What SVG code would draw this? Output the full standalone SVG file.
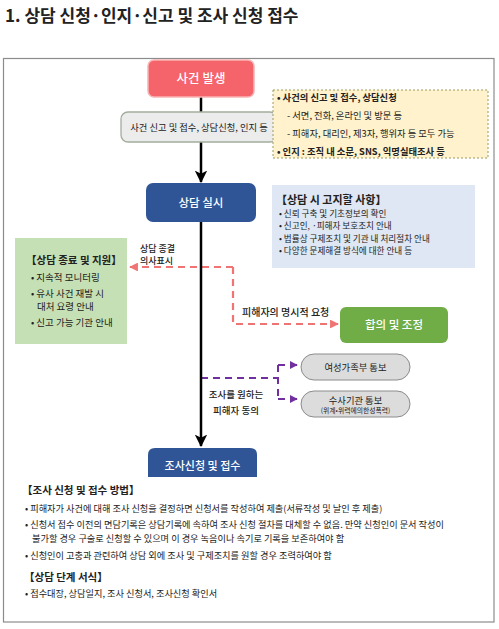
<svg xmlns="http://www.w3.org/2000/svg" width="499" height="629" viewBox="0 0 499 629">
<style>
text{font-family:"Noto Sans CJK KR","Noto Sans",sans-serif;fill:#222}
.w{fill:#fff;text-anchor:middle}
.b{font-weight:bold}
.m{font-weight:500}
.c{text-anchor:middle}
.s{font-size:9.5px}
.t{font-size:9px}
.u{font-size:8.6px}
.r{fill:none;stroke:#f07474;stroke-width:2.2;stroke-dasharray:7 5}
.p{fill:none;stroke:#7030a0;stroke-width:2;stroke-dasharray:7 5}
.k{fill:none;stroke:#000;stroke-width:2.5}
</style>
<defs>
<marker id="ak" viewBox="0 0 12 12" refX="11" refY="6" markerWidth="5" markerHeight="5" orient="auto" markerUnits="strokeWidth">
<path d="M0,0 L12,6 L0,12 L3,6 z" fill="#000"/>
</marker>
<marker id="ar" viewBox="0 0 10 10" refX="9" refY="5" markerWidth="4" markerHeight="4" orient="auto" markerUnits="strokeWidth">
<path d="M0,0 L10,5 L0,10 z" fill="#f07474"/>
</marker>
<marker id="ap" viewBox="0 0 10 10" refX="9" refY="5" markerWidth="4" markerHeight="4" orient="auto" markerUnits="strokeWidth">
<path d="M0,0 L10,5 L0,10 z" fill="#7030a0"/>
</marker>
</defs>
<rect width="499" height="629" fill="#fff"/>
<text x="5" y="22" class="b" font-size="17">1. 상담 신청·인지·신고 및 조사 신청 접수</text>
<rect x="3.5" y="58.5" width="490.5" height="563.5" fill="none" stroke="#8c8c8c" stroke-width="1.2"/>

<g id="connectors">
<path class="r" d="M233,267 H130" marker-end="url(#ar)"/>
<path class="r" d="M233,267 V324 H338" marker-end="url(#ar)"/>
<path class="p" d="M201,378 H278 M278,365 V399"/>
<path class="p" d="M278,365 H297" marker-end="url(#ap)"/>
<path class="p" d="M278,399 H297" marker-end="url(#ap)"/>
<path class="k" d="M201,97 V182" marker-end="url(#ak)"/>
<path class="k" d="M201,222 V446" marker-end="url(#ak)"/>
</g>

<g id="n-incident">
<rect x="148" y="60" width="106" height="37" rx="6" fill="#f5636b" stroke="#f8b4b4" stroke-width="1.5"/>
<text x="201" y="83" class="w m" font-size="12.5">사건 발생</text>
</g>

<g id="n-report">
<rect x="121" y="112" width="156" height="30" rx="7" fill="#ececec" stroke="#a3ad9c" stroke-width="1.3"/>
<text x="199" y="130.5" class="c" font-size="9.3">사건 신고 및 접수, 상담신청, 인지 등</text>
</g>

<g id="n-report-note">
<rect x="273" y="90" width="215" height="68" fill="#fff2cc" stroke="#9c9c5a" stroke-width="1" stroke-dasharray="2 2"/>
<text x="277" y="101" class="b" font-size="9.3">• 사건의 신고 및 접수, 상담신청</text>
<text x="287" y="119" font-size="9.3">- 서면, 전화, 온라인 및 방문 등</text>
<text x="287" y="137" font-size="9.3">- 피해자, 대리인, 제3자, 행위자 등 모두 가능</text>
<text x="277" y="155" class="b" font-size="9.3">• 인지 : 조직 내 소문, SNS, 익명실태조사 등</text>
</g>

<g id="n-counsel">
<rect x="146" y="183" width="110" height="39" rx="7" fill="#2f5597"/>
<text x="201" y="206.5" class="w m" font-size="11.5">상담 실시</text>
</g>

<g id="n-counsel-note">
<rect x="272" y="185" width="203" height="83" fill="#dee7f3"/>
<text x="276" y="204" class="b" font-size="11">【상담 시 고지할 사항】</text>
<text x="279" y="216.5" class="u">• 신뢰 구축 및 기초정보의 확인</text>
<text x="279" y="229" class="u">• 신고인, ·피해자 보호조치 안내</text>
<text x="279" y="241.5" class="u">• 법률상 구제조치 및 기관 내 처리절차 안내</text>
<text x="279" y="254" class="u">• 다양한 문제해결 방식에 대한 안내 등</text>
</g>

<g id="n-end-support">
<rect x="15" y="238" width="112" height="106" fill="#c5e0b4"/>
<text x="26" y="264" class="b" font-size="10.5">【상담 종료 및 지원】</text>
<text x="31" y="281" class="s">• 지속적 모니터링</text>
<text x="31" y="297" class="s">• 유사 사건 재발 시</text>
<text x="37" y="310" class="s">대처 요령 안내</text>
<text x="31" y="326" class="s">• 신고 가능 기관 안내</text>
</g>

<g id="l-end">
<text x="140" y="252" class="t m">상담 종결</text>
<text x="140" y="264" class="t m">의사표시</text>
</g>

<g id="l-request">
<text x="242" y="316" class="m" font-size="10">피해자의 명시적 요청</text>
</g>

<g id="n-mediation">
<rect x="340" y="307" width="108" height="36" rx="6" fill="#70ad47"/>
<text x="394" y="329" class="w m" font-size="11.5">합의 및 조정</text>
</g>

<g id="l-consent">
<text x="236" y="398" class="c s m">조사를 원하는</text>
<text x="236" y="414" class="c s m">피해자 동의</text>
</g>

<g id="n-mogef">
<rect x="301" y="354" width="109" height="26" rx="13" fill="#dcdcdc" stroke="#8c8c8c" stroke-width="1"/>
<text x="355.5" y="370.5" class="c" font-size="9.3">여성가족부 통보</text>
</g>

<g id="n-police">
<rect x="301" y="391" width="109" height="26" rx="13" fill="#dcdcdc" stroke="#8c8c8c" stroke-width="1"/>
<text x="355.5" y="403.5" class="c" font-size="9.3">수사기관 통보</text>
<text x="355.5" y="413" class="c" font-size="6.8">(위계•위력에의한성폭력)</text>
</g>

<g id="n-investigation">
<path d="M148,477 V455 Q148,448 155,448 H250 Q257,448 257,455 V477 Z" fill="#2f5597"/>
<text x="202.5" y="470" class="w m" font-size="11">조사신청 및 접수</text>
</g>

<g id="t-method">
<text x="22" y="494" class="b" font-size="10.5">【조사 신청 및 접수 방법】</text>
<text x="25" y="512" font-size="9.2">• 피해자가 사건에 대해 조사 신청을 결정하면 신청서를 작성하여 제출(서류작성 및 날인 후 제출)</text>
<text x="25" y="528" font-size="9.2">• 신청서 접수 이전의 면담기록은 상담기록에 속하여 조사 신청 절차를 대체할 수 없음. 만약 신청인이 문서 작성이</text>
<text x="32" y="542" font-size="9.2">불가할 경우 구술로 신청할 수 있으며 이 경우 녹음이나 속기로 기록을 보존하여야 함</text>
<text x="25" y="559" font-size="9.2">• 신청인이 고충과 관련하여 상담 외에 조사 및 구제조치를 원할 경우 조력하여야 함</text>
</g>

<g id="t-forms">
<text x="24" y="581" class="b" font-size="10.5">【상담 단계 서식】</text>
<text x="25" y="597" font-size="9.2">• 접수대장, 상담일지, 조사 신청서, 조사신청 확인서</text>
</g>
</svg>
